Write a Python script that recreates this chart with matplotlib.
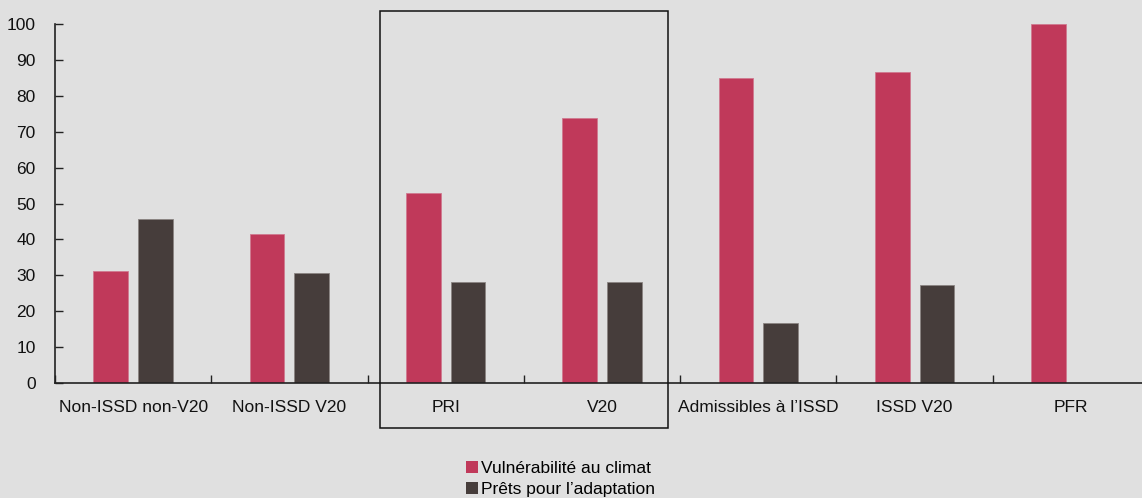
import numpy as np
import matplotlib
matplotlib.use("Agg")
from matplotlib import pyplot as plt
from matplotlib.patches import Rectangle, Patch

categories = ["Non-ISSD non-V20", "Non-ISSD V20", "PRI", "V20",
              "Admissibles à l’ISSD", "ISSD V20", "PFR"]
vulnerabilite = [31.3, 41.5, 52.9, 73.7, 85.0, 86.6, 100.0]
prets = [45.6, 30.7, 28.2, 28.2, 16.8, 27.2, np.nan]
series_names = ["Vulnérabilité au climat", "Prêts pour l’adaptation"]

bg = "#e0e0e0"
pink = "#c0395a"
dark = "#463d3b"

plt.rcParams['font.family'] = ['Liberation Sans', 'DejaVu Sans']

fig = plt.figure(figsize=(11.42, 4.98), dpi=100, facecolor=bg)
ax = fig.add_axes([0.0482, 0.2309, 0.9518, 0.7209])
ax.set_facecolor(bg)

x = np.arange(len(categories))
w = 0.222
off = 0.143
ax.bar(x - off, vulnerabilite, w, color=pink, edgecolor="#d07a90", linewidth=0.6)
ax.bar(x + off, prets, w, color=dark, edgecolor="#8a8482", linewidth=0.6)

ax.set_yticks(range(0, 101, 10))
ax.tick_params(axis="y", direction="in", length=6, width=1, labelsize=12.5, pad=14,
               color="#222222", labelcolor="#111111")
ax.set_xticks(x)
ax.set_xticklabels(categories)
ax.tick_params(axis="x", which="major", length=0, labelsize=12.5, pad=12, labelcolor="#111111")
ax.set_xticks(np.arange(len(categories) + 1) - 0.5, minor=True)
ax.tick_params(axis="x", which="minor", direction="in", length=6, width=1, color="#222222")
# limites après les ticks (set_xticks élargit la vue)
ax.set_ylim(0, 100)
ax.set_xlim(-0.5, 6.455)

for s in ["top", "right"]:
    ax.spines[s].set_visible(False)
for s in ["left", "bottom"]:
    ax.spines[s].set_color("#222222")
    ax.spines[s].set_linewidth(1.2)

# cadre autour de PRI / V20
box = Rectangle((0.3327, 0.1406), 0.2522, 0.8373, fill=False, edgecolor="#111111",
                linewidth=1.1, transform=fig.transFigure)
fig.add_artist(box)

handles = [Patch(facecolor=pink), Patch(facecolor=dark)]
fig.legend(handles, series_names, loc="center", bbox_to_anchor=(0.491, 0.038),
           frameon=False, fontsize=12.5, handlelength=0.65, handleheight=0.65,
           handletextpad=0.2, labelspacing=0.35, borderaxespad=0)

fig.savefig("out.png", dpi=100, facecolor=bg)
